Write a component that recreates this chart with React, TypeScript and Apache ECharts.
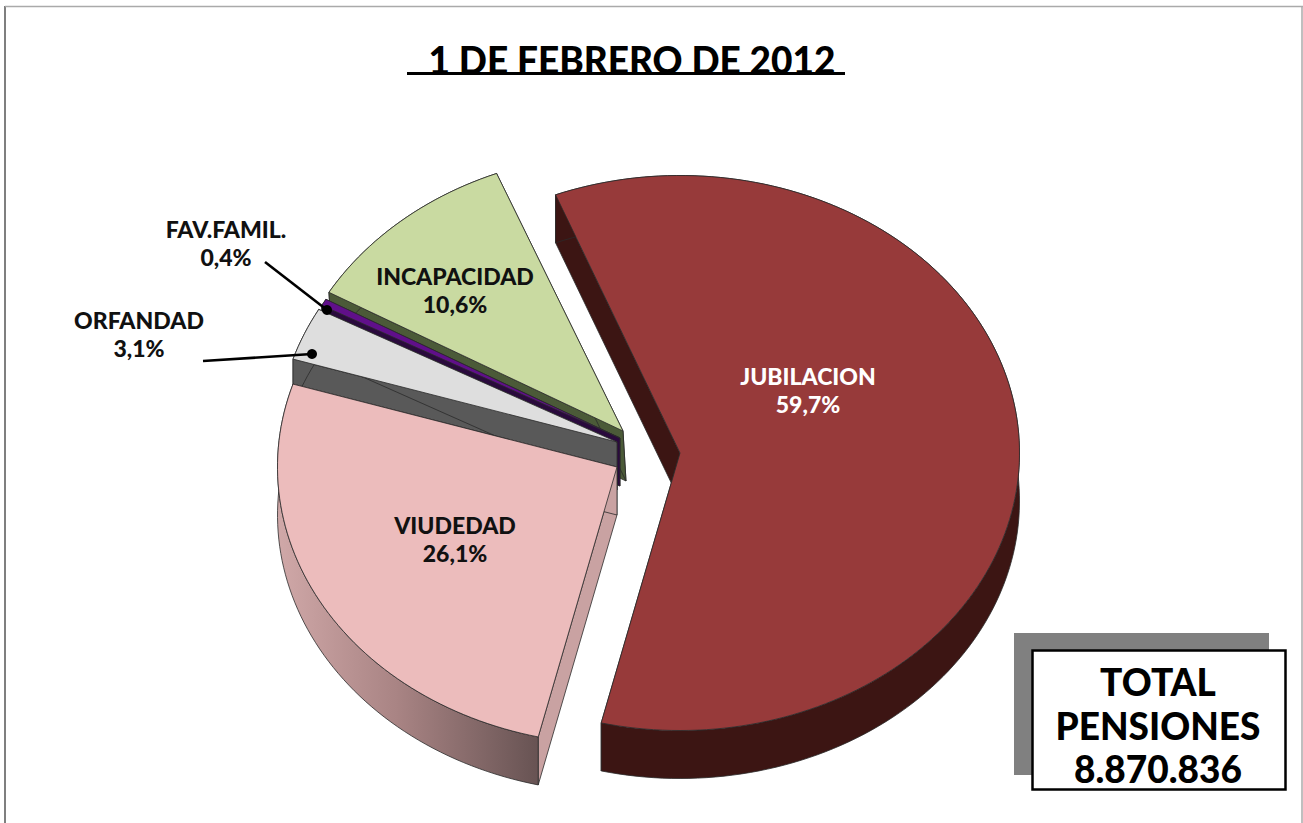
import React, { useEffect, useRef } from "react";
import * as echarts from "echarts";

const chartTitle = "1 DE FEBRERO DE 2012";
const categories = ["JUBILACION", "VIUDEDAD", "ORFANDAD", "FAV.FAMIL.", "INCAPACIDAD"];
const shares = [59.7, 26.1, 3.1, 0.4, 10.6];
const shareLabels = ["59,7%", "26,1%", "3,1%", "0,4%", "10,6%"];
const totalLines = ["TOTAL", "PENSIONES", "8.870.836"];

const topColors = ["#973a3a", "#ecbcbc", "#dedede", "#600f8a", "#c9daa1"];
const cutColors = ["#3c1513", "#c9a2a2", "#595959", "#2a0a3d", "#4b5a38"];
const labelColors = ["#ffffff", "#111111", "#111111", "#111111", "#111111"];

// layout of the exploded pie, in pixels
const apexes = [
  [680, 453],
  [617, 467],
  [617, 442],
  [620, 438],
  [623, 431],
];
const depthOffsets = [
  [0, 48],
  [0, 48],
  [0, 48],
  [0, 48],
  [3, 50],
];
const labelCentres = [
  [808, 390],
  [455, 539],
  [139, 334],
  [226, 243],
  [455, 290],
];
const RX = 339.5;
const RY = 277.5;
const START_DEG = 338.5;
const FONT = "Lato";

const rimGradient = () =>
  new echarts.graphic.LinearGradient(
    278, 0, 541, 0,
    [
      { offset: 0, color: "#d0a8a8" },
      { offset: 0.45, color: "#a98484" },
      { offset: 1, color: "#665252" },
    ],
    true
  );

function renderSlice(params: any, api: any) {
  const i = categories.length - 1 - params.dataIndex;
  const value = api.value(0);
  const before = shares.slice(0, i).reduce((a, b) => a + b, 0);
  const a0 = START_DEG + (before / 100) * 360;
  const a1 = a0 + (value / 100) * 360;
  const [cx, cy] = apexes[i];
  const [dx, dy] = depthOffsets[i];
  const rim = (deg: number, ox = 0, oy = 0) => {
    const r = (deg * Math.PI) / 180;
    return [cx + RX * Math.sin(r) + ox, cy - RY * Math.cos(r) + oy];
  };
  const arc: number[][] = [];
  const arcLow: number[][] = [];
  const steps = Math.max(2, Math.ceil((a1 - a0) / 1.5));
  for (let s = 0; s <= steps; s++) {
    const deg = a0 + ((a1 - a0) * s) / steps;
    arc.push(rim(deg));
    arcLow.push(rim(deg, dx, dy));
  }
  const apex = [cx, cy];
  const apexLow = [cx + dx, cy + dy];
  const edge = { stroke: "#2b2b2b", lineWidth: 0.8, lineJoin: "round" };
  const rimFill = i === 1 ? rimGradient() : cutColors[i];
  const z2 = params.dataIndex;
  const poly = (points: number[][], fill: any) => ({
    type: "polygon",
    z2,
    shape: { points },
    style: { fill, ...edge },
  });
  return {
    type: "group",
    children: [
      poly([apex, arc[0], arcLow[0], apexLow], cutColors[i]),
      poly([apex, arc[steps], arcLow[steps], apexLow], cutColors[i]),
      poly([...arc, ...arcLow.slice().reverse()], rimFill),
      poly([apex, ...arc], topColors[i]),
    ],
  };
}

function buildGraphics() {
  const elements: any[] = [
    { type: "line", shape: { x1: 5, y1: 6, x2: 5, y2: 823 }, style: { stroke: "#555555", lineWidth: 1.5 } },
    { type: "line", shape: { x1: 5, y1: 6.5, x2: 1303, y2: 6.5 }, style: { stroke: "#aaaaaa", lineWidth: 1.5 } },
    { type: "line", shape: { x1: 1302, y1: 6, x2: 1302, y2: 823 }, style: { stroke: "#aaaaaa", lineWidth: 1.5 } },
    { type: "rect", shape: { x: 407, y: 72, width: 438, height: 3 }, style: { fill: "#000000" } },
    // leaders
    { type: "line", z: 20, shape: { x1: 265, y1: 262, x2: 327, y2: 310 }, style: { stroke: "#000000", lineWidth: 2.6 } },
    { type: "circle", z: 20, shape: { cx: 327, cy: 310, r: 5 }, style: { fill: "#000000" } },
    { type: "line", z: 20, shape: { x1: 203, y1: 361, x2: 312, y2: 354 }, style: { stroke: "#000000", lineWidth: 2.6 } },
    { type: "circle", z: 20, shape: { cx: 312, cy: 354, r: 5 }, style: { fill: "#000000" } },
    // total box
    { type: "rect", z: 20, shape: { x: 1014, y: 633, width: 255, height: 142 }, style: { fill: "#808080" } },
    { type: "rect", z: 21, shape: { x: 1032.5, y: 650.5, width: 253, height: 139 }, style: { fill: "#ffffff", stroke: "#000000", lineWidth: 2.5 } },
  ];
  const totalY = [681, 725, 768];
  totalLines.forEach((line, k) => {
    elements.push({
      type: "text",
      z: 22,
      x: 1158,
      y: totalY[k],
      style: {
        text: line,
        fill: "#000000",
        font: `900 ${k === 2 ? 37 : 37}px ${FONT}`,
        align: "center",
        verticalAlign: "middle",
      },
    });
  });
  categories.forEach((name, i) => {
    elements.push({
      type: "text",
      z: 30,
      x: labelCentres[i][0],
      y: labelCentres[i][1],
      style: {
        text: `${name}\n${shareLabels[i]}`,
        fill: labelColors[i],
        font: `900 23px ${FONT}`,
        lineHeight: 28,
        align: "center",
        verticalAlign: "middle",
      },
    });
  });
  return elements;
}

export default function App() {
  const ref = useRef<HTMLDivElement>(null);
  useEffect(() => {
    document.body.style.margin = "0";
    document.body.style.background = "#ffffff";
    const chart = echarts.init(ref.current!, undefined, { renderer: "svg" });
    chart.setOption({
      animation: false,
      backgroundColor: "#ffffff",
      title: {
        text: chartTitle,
        left: 627,
        top: 36,
        textAlign: "center",
        textStyle: { fontFamily: FONT, fontWeight: 900, fontSize: 37, color: "#000000" },
      },
      series: [
        {
          type: "custom",
          coordinateSystem: "none",
          silent: true,
          renderItem: renderSlice,
          data: shares.slice().reverse().map((v) => [v]),
        },
      ],
      graphic: { elements: buildGraphics() },
    });
    return () => chart.dispose();
  }, []);
  return <div ref={ref} style={{ width: 1303, height: 823 }} />;
}
